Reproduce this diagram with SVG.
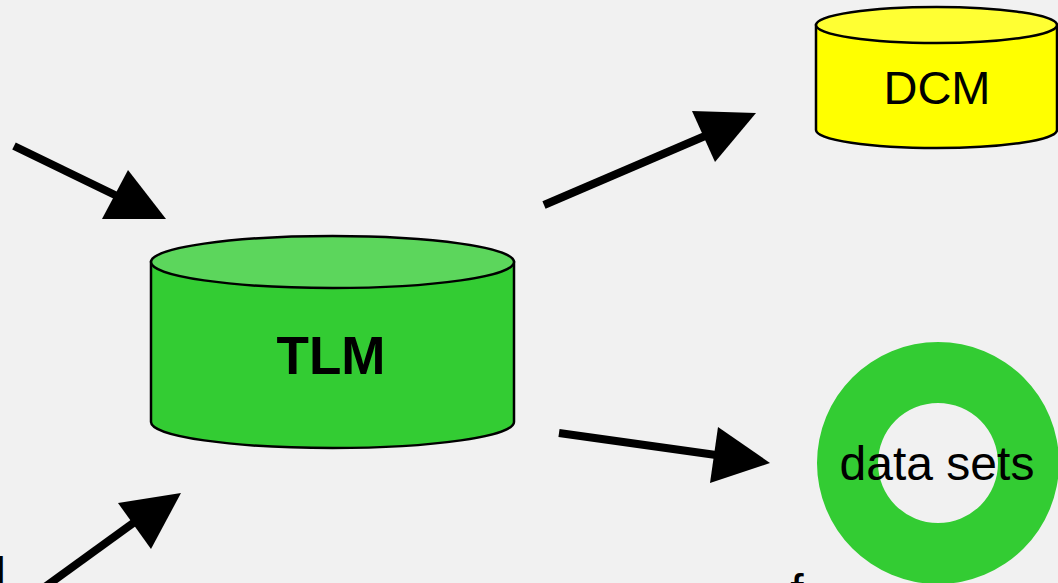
<svg xmlns="http://www.w3.org/2000/svg" width="1058" height="583" viewBox="0 0 1058 583">
<style>
.outline{stroke:#000;stroke-width:2.5}
.lbl{font-family:"Liberation Sans",Arial,sans-serif;font-size:48px;fill:#000;text-anchor:middle}
.conn line{stroke:#000;stroke-width:8}
.conn polygon{fill:#000}
</style>
<rect width="1058" height="583" fill="#F1F1F1"/>
<g id="connectors" class="conn">
<line x1="14" y1="146" x2="117" y2="196"/>
<polygon points="128,170 166,219 102,219"/>
<line x1="544" y1="205" x2="705" y2="136"/>
<polygon points="692,111 756,113 715,162"/>
<line x1="559" y1="433" x2="716" y2="455"/>
<polygon points="718,427 770,463 710,483"/>
<line x1="38" y1="592" x2="136" y2="521"/>
<polygon points="118,503 181,493 151,549"/>
</g>
<g id="TLM">
<path class="outline" fill="#33CC33" d="M151,262 L151,422 A181.5,26 0 0 0 514,422 L514,262 Z"/>
<ellipse class="outline" cx="332.5" cy="262" rx="181.5" ry="26" fill="#5CD65C"/>
<text class="lbl" x="331" y="374" style="font-weight:bold;font-size:53px">TLM</text>
</g>
<g id="DCM">
<path class="outline" fill="#FFFF00" d="M816,25 L816,130 A120.5,18 0 0 0 1057,130 L1057,25 Z"/>
<ellipse class="outline" cx="936.5" cy="25" rx="120.5" ry="18" fill="#FFFF33"/>
<text class="lbl" x="937" y="104" style="font-size:47px">DCM</text>
</g>
<g id="datasets">
<path fill="#33CC33" fill-rule="evenodd" d="M817,463 A121,121 0 1 0 1059,463 A121,121 0 1 0 817,463 Z M878,463 A60,60 0 1 0 998,463 A60,60 0 1 0 878,463 Z"/>
<text class="lbl" x="937" y="480">data sets</text>
</g>
<g id="partial-labels">
<text class="lbl" x="6" y="591" style="text-anchor:end">d</text>
<text class="lbl" x="797" y="608">f</text>
</g>
</svg>
